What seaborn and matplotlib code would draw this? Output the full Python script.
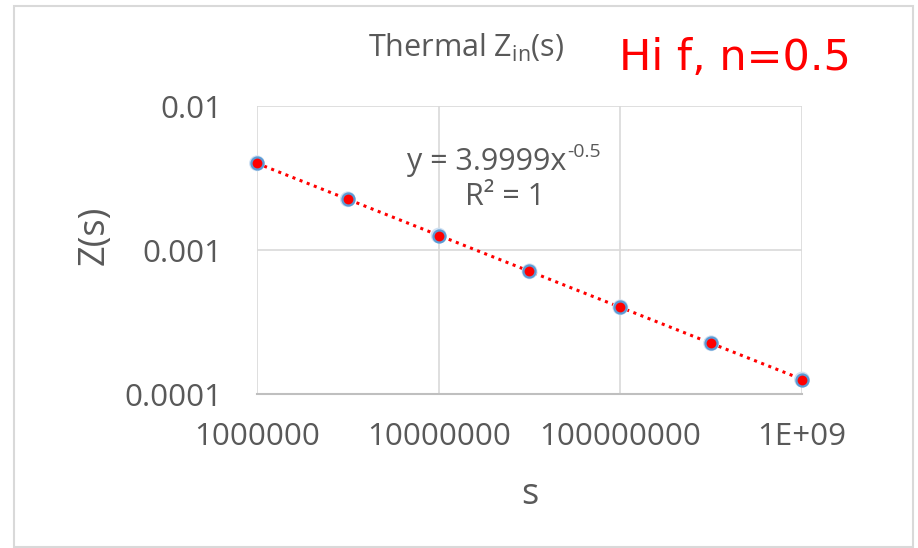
import matplotlib
matplotlib.use("Agg")
import matplotlib.pyplot as plt
import seaborn as sns
import pandas as pd
import numpy as np
from matplotlib.patches import Rectangle
from matplotlib.ticker import FixedLocator, NullLocator

s_values = [1e6, 3.162e6, 1e7, 3.162e7, 1e8, 3.162e8, 1e9]
z_values = [0.0040, 0.00225, 0.00126, 0.000711, 0.0004, 0.000225, 0.000126]
x_ticks = [1e6, 1e7, 1e8, 1e9]
x_tick_labels = ["1000000", "10000000", "100000000", "1E+09"]
y_ticks = [0.0001, 0.001, 0.01]
y_tick_labels = ["0.0001", "0.001", "0.01"]
fit_coef = 3.9999
fit_exp = -0.5

sns.set_theme(style="white")
plt.rcParams['font.family'] = ['Open Sans', 'DejaVu Sans']

df = pd.DataFrame({"s": s_values, "Z": z_values})
GRAY = "#595959"

fig = plt.figure(figsize=(9.18, 5.48), dpi=100)
fig.patch.set_facecolor("white")
fig.patches.append(Rectangle((14/918, 1/548), (913-14)/918, (542-1)/548, transform=fig.transFigure,
                             fill=False, edgecolor="#d9d9d9", linewidth=1.5, zorder=0))

ax = fig.add_axes([257/918, 1 - 394/548, (802-257)/918, (394-106)/548])
ax.set_xscale("log")
ax.set_yscale("log")
ax.set_xlim(1e6, 1e9)
ax.set_ylim(1e-4, 1e-2)

# trend line (power fit)
fit_x = np.array([min(s_values), max(s_values)])
fit_df = pd.DataFrame({"s": fit_x, "Z": fit_coef * fit_x ** fit_exp})
sns.lineplot(data=fit_df, x="s", y="Z", ax=ax, color="red", linestyle=(0, (1, 1.5)),
             linewidth=2.2, zorder=3)

sns.scatterplot(data=df, x="s", y="Z", ax=ax, s=130, color="#cfe0f2", edgecolor="none",
                zorder=4, clip_on=False)
sns.scatterplot(data=df, x="s", y="Z", ax=ax, s=75, color="red", edgecolor="#5b9bd5",
                linewidth=1.6, zorder=5, clip_on=False)

ax.xaxis.set_major_locator(FixedLocator(x_ticks))
ax.xaxis.set_minor_locator(NullLocator())
ax.yaxis.set_major_locator(FixedLocator(y_ticks))
ax.yaxis.set_minor_locator(NullLocator())
ax.set_xticklabels(x_tick_labels)
ax.set_yticklabels(y_tick_labels)
ax.tick_params(axis="both", length=0, labelsize=22.5, labelcolor=GRAY)
ax.tick_params(axis="x", pad=20)
ax.tick_params(axis="y", pad=25)

ax.grid(True, color="#d9d9d9", linewidth=1.2)
for side in ["top", "right", "left"]:
    ax.spines[side].set_visible(False)
ax.spines["bottom"].set_color("#bfbfbf")
ax.spines["bottom"].set_linewidth(1.5)

ax.set_xlabel("s", fontsize=26, color=GRAY)
ax.set_ylabel("Z(s)", fontsize=26, color=GRAY)
ax.xaxis.label.set_va("center")
ax.yaxis.label.set_va("center")
ax.xaxis.set_label_coords(0.5, -(495-394)/288)
ax.yaxis.set_label_coords(-(257-95)/545, 0.5 + 15/288)

fig.text(466/918, 1 - 48/548, r"Thermal Z$_{\mathregular{in}}$(s)", ha="center", va="center",
         fontsize=22, color=GRAY)
fig.text(735/918, 1 - 58/548, "Hi f, n=0.5", ha="center", va="center", fontsize=31,
         color="#ff0000", family=["DejaVu Sans"])
fig.text(566/918, 1 - 162/548, "y = 3.9999x", ha="right", va="center",
         fontsize=22, color=GRAY)
fig.text(567/918, 1 - 152/548, "-0.5", ha="left", va="center",
         fontsize=14, color=GRAY)
fig.text(505/918, 1 - 197/548, "R² = 1", ha="center", va="center", fontsize=22, color=GRAY)

fig.savefig("out.png", dpi=100)
